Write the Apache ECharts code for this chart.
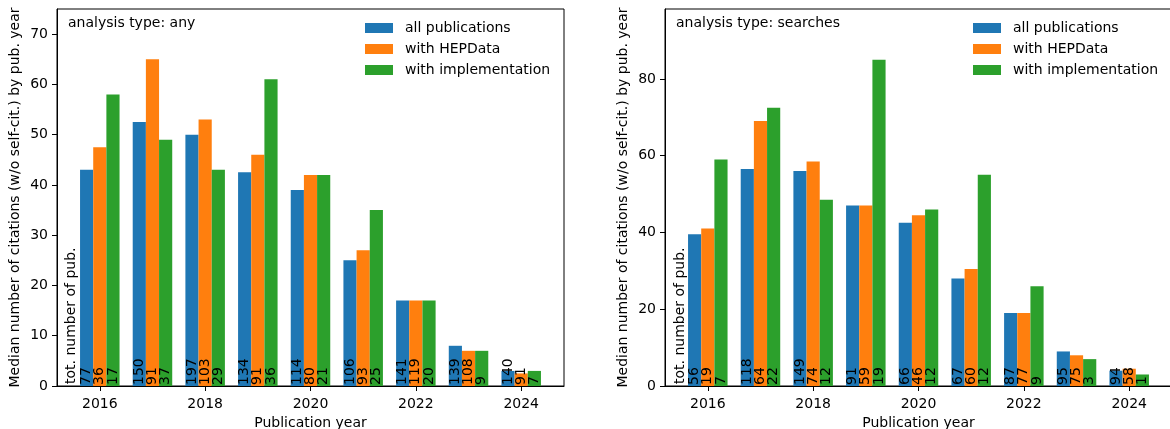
<!DOCTYPE html>
<html>
<head>
<meta charset="utf-8">
<script src="https://cdn.jsdelivr.net/npm/echarts@6/dist/echarts.min.js"></script>
<style>html,body{margin:0;padding:0;background:#fff;}#c{width:1170px;height:429px;}</style>
</head>
<body>
<div id="c"></div>
<script>
const years = [2016, 2017, 2018, 2019, 2020, 2021, 2022, 2023, 2024];
const seriesNames = ['all publications', 'with HEPData', 'with implementation'];
const colors = ['#1f77b4', '#ff7f0e', '#2ca02c'];
const xTicks = [2016, 2018, 2020, 2022, 2024];

// Panel 1: analysis type any
const anyAll = [43, 52.5, 50, 42.5, 39, 25, 17, 8, 3];
const anyHep = [47.5, 65, 53, 46, 42, 27, 17, 7, 2.5];
const anyImpl = [58, 49, 43, 61, 42, 35, 17, 7, 3];
const anyAllN = [77, 150, 197, 134, 114, 106, 141, 139, 140];
const anyHepN = [36, 91, 103, 91, 80, 93, 119, 108, 91];
const anyImplN = [17, 37, 29, 36, 21, 25, 20, 9, 7];
const anyYTicks = [0, 10, 20, 30, 40, 50, 60, 70];

// Panel 2: analysis type searches
const srchAll = [39.5, 56.5, 56, 47, 42.5, 28, 19, 9, 4];
const srchHep = [41, 69, 58.5, 47, 44.5, 30.5, 19, 8, 4.5];
const srchImpl = [59, 72.5, 48.5, 85, 46, 55, 26, 7, 3];
const srchAllN = [56, 118, 149, 91, 66, 67, 87, 95, 94];
const srchHepN = [19, 64, 74, 59, 46, 60, 77, 75, 58];
const srchImplN = [7, 22, 12, 19, 12, 12, 9, 3, 1];
const srchYTicks = [0, 20, 40, 60, 80];

const FONT = 'DejaVu Sans';
const FS = 14;

function xAxisDef(gi) {
  return {
    type: 'value', gridIndex: gi, min: 2015.1875, max: 2024.8125,
    name: 'Publication year', nameLocation: 'middle', nameGap: 30,
    nameTextStyle: {fontFamily: FONT, fontSize: FS, color: '#000'},
    axisLine: {show: true, lineStyle: {color: '#000', width: 1}},
    axisTick: {show: true, length: 5, customValues: xTicks, lineStyle: {color: '#000'}},
    axisLabel: {customValues: xTicks, margin: 11, fontFamily: FONT, fontSize: FS, color: '#000',
      formatter: v => String(v)},
    splitLine: {show: false}
  };
}
function yAxisDef(gi, max, ticks) {
  return {
    type: 'value', gridIndex: gi, min: 0, max: max,
    name: 'Median number of citations (w/o self-cit.) by pub. year',
    nameLocation: 'middle', nameGap: 35, nameRotate: 90,
    nameTextStyle: {fontFamily: FONT, fontSize: FS, color: '#000'},
    axisLine: {show: true, lineStyle: {color: '#000', width: 1}},
    axisTick: {show: true, length: 5, customValues: ticks, lineStyle: {color: '#000'}},
    axisLabel: {customValues: ticks, margin: 9, fontFamily: FONT, fontSize: FS, color: '#000'},
    splitLine: {show: false}
  };
}
function barSeries(gi, idx, vals, counts) {
  return {
    type: 'bar', name: seriesNames[idx], xAxisIndex: gi, yAxisIndex: gi,
    data: years.map((y, i) => [y, vals[i]]),
    barWidth: '25%', barGap: '0%',
    itemStyle: {color: colors[idx]},
    label: {
      show: true, position: 'insideBottom', distance: 1, rotate: 90,
      align: 'left', verticalAlign: 'middle',
      fontFamily: FONT, fontSize: FS, color: '#000',
      formatter: p => String(counts[p.dataIndex])
    },
    emphasis: {disabled: true},
    animation: false
  };
}
function legendDef(left) {
  return {
    orient: 'vertical', left: left, top: 20, icon: 'rect', padding: 0,
    itemWidth: 28, itemHeight: 10, itemGap: 5,
    data: seriesNames,
    textStyle: {fontFamily: FONT, fontSize: FS, color: '#000', lineHeight: 16, padding: [0, 0, 0, 7]},
    selectedMode: false
  };
}
function txt(x, y, s, rot) {
  return {
    type: 'text', x: x, y: y, rotation: rot || 0, silent: true,
    style: {text: s, fontFamily: FONT, fontSize: FS, fill: '#000',
      textAlign: 'left', textVerticalAlign: 'middle'}
  };
}

const chart = echarts.init(document.getElementById('c'), null, {renderer: 'canvas'});
chart.setOption({
  animation: false,
  backgroundColor: '#fff',
  grid: [
    {left: 57, top: 9, width: 507, height: 377, containLabel: false, outerBoundsMode: 'none',
      show: true, borderColor: '#000', borderWidth: 1, backgroundColor: 'transparent'},
    {left: 665, top: 9, width: 507, height: 377, containLabel: false, outerBoundsMode: 'none',
      show: true, borderColor: '#000', borderWidth: 1, backgroundColor: 'transparent'}
  ],
  xAxis: [xAxisDef(0), xAxisDef(1)],
  yAxis: [yAxisDef(0, 75, anyYTicks), yAxisDef(1, 98.2, srchYTicks)],
  legend: [legendDef(365), legendDef(973)],
  series: [
    barSeries(0, 0, anyAll, anyAllN),
    barSeries(0, 1, anyHep, anyHepN),
    barSeries(0, 2, anyImpl, anyImplN),
    barSeries(1, 0, srchAll, srchAllN),
    barSeries(1, 1, srchHep, srchHepN),
    barSeries(1, 2, srchImpl, srchImplN)
  ],
  graphic: [
    txt(68, 23, 'analysis type: any'),
    txt(676, 23, 'analysis type: searches'),
    txt(71, 384, 'tot. number of pub.', Math.PI / 2),
    txt(680, 384, 'tot. number of pub.', Math.PI / 2)
  ]
});
</script>
</body>
</html>
